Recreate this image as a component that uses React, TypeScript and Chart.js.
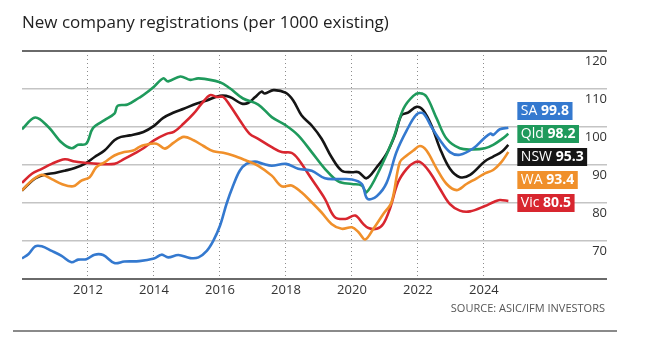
import React, { useEffect, useRef } from "react";
import { Chart, registerables } from "chart.js";

Chart.register(...registerables);

const TITLE = "New company registrations (per 1000 existing)";
const SOURCE = "SOURCE: ASIC/IFM INVESTORS";

const X_MIN = 2010;
const X_MAX = 2027.73;
const xTickYears = [2012, 2014, 2016, 2018, 2020, 2022, 2024];
const yTickValues = [60, 70, 80, 90, 100, 110, 120];

const seriesNames = ["SA", "Qld", "NSW", "WA", "Vic"];
const seriesLatest = ["99.8", "98.2", "95.3", "93.4", "80.5"];
const seriesColors = ["#3479cf", "#1f9a5c", "#151515", "#f0902b", "#d8262f"];

const saYears = [2010, 2010.2, 2010.4, 2010.6, 2010.9, 2011.2, 2011.5, 2011.7, 2011.95, 2012.2, 2012.46, 2012.8, 2013.1, 2013.55, 2014, 2014.23, 2014.43, 2014.74, 2015.1, 2015.35, 2015.6, 2015.8, 2016, 2016.2, 2016.4, 2016.6, 2016.8, 2017.06, 2017.3, 2017.57, 2018, 2018.37, 2018.78, 2019.18, 2019.6, 2020, 2020.3, 2020.47, 2020.75, 2021.05, 2021.35, 2021.66, 2021.96, 2022.16, 2022.41, 2022.67, 2022.97, 2023.27, 2023.68, 2024, 2024.2, 2024.28, 2024.48, 2024.74];
const saValues = [65.4, 66.6, 68.6, 68.6, 67.4, 66.1, 64.4, 65.1, 65.2, 66.4, 66.3, 64.2, 64.6, 64.7, 65.4, 66.4, 65.7, 66.3, 65.5, 65.7, 67.4, 70.1, 74, 79.8, 84.6, 88.5, 90.3, 90.9, 90.3, 89.8, 90.3, 89, 88.5, 86.5, 86.3, 86.2, 85, 81.1, 81.8, 85.3, 93.4, 99.1, 103.3, 103.6, 100, 96.5, 93.4, 92.7, 94.4, 97, 98.3, 97.9, 99.4, 99.8];

const qldYears = [2010, 2010.4, 2010.8, 2011.2, 2011.5, 2011.7, 2011.95, 2012.15, 2012.5, 2012.8, 2012.9, 2013.2, 2013.55, 2013.68, 2014, 2014.28, 2014.43, 2014.8, 2015.1, 2015.35, 2016, 2016.3, 2016.7, 2017.16, 2017.57, 2018, 2018.37, 2018.78, 2019.18, 2019.6, 2020, 2020.3, 2020.44, 2020.85, 2021.25, 2021.56, 2021.86, 2022.06, 2022.26, 2022.57, 2022.87, 2023.27, 2023.68, 2024.03, 2024.28, 2024.54, 2024.74];
const qldValues = [99.4, 102.5, 100, 95.9, 94.4, 95.3, 95.6, 99.7, 101.8, 103.5, 105.6, 105.9, 107.7, 108.4, 110.6, 112.8, 112, 113.3, 112.4, 112.8, 111.8, 110.2, 107.5, 105.9, 102.6, 100.4, 97.8, 93.4, 89, 85.6, 85, 84.6, 82.8, 89, 96.9, 104.8, 108.2, 108.9, 108, 102.2, 96.9, 94.4, 94.1, 94.4, 95.3, 96.8, 98.2];

const nswYears = [2010, 2010.2, 2010.4, 2010.7, 2011, 2011.3, 2011.6, 2011.9, 2012.2, 2012.5, 2012.8, 2013, 2013.27, 2013.68, 2014, 2014.28, 2014.6, 2014.9, 2015.3, 2015.6, 2016, 2016.3, 2016.65, 2016.85, 2017.06, 2017.26, 2017.36, 2017.62, 2018, 2018.22, 2018.47, 2018.78, 2019.08, 2019.38, 2019.69, 2020, 2020.2, 2020.44, 2020.75, 2021.05, 2021.3, 2021.5, 2021.7, 2021.96, 2022.16, 2022.41, 2022.67, 2022.97, 2023.27, 2023.58, 2024.03, 2024.28, 2024.54, 2024.74];
const nswValues = [83.3, 85, 86.5, 87.5, 87.9, 88.5, 89.2, 90.3, 92.1, 93.8, 96.5, 97.4, 97.8, 98.7, 100.3, 102.4, 103.8, 104.8, 106.2, 107, 108.2, 107.9, 106.2, 106.3, 107.8, 109.3, 108.8, 109.7, 109, 107, 103.1, 100.4, 96.9, 92.1, 88.5, 88.1, 88.1, 86.5, 89.4, 93, 97.8, 103.1, 103.8, 105.3, 104.4, 100.4, 94.3, 89, 86.8, 87.4, 91, 92.2, 93.5, 95.3];

const waYears = [2010, 2010.3, 2010.6, 2010.9, 2011.2, 2011.55, 2011.8, 2012.05, 2012.25, 2012.5, 2012.8, 2013.1, 2013.37, 2013.55, 2013.68, 2014.08, 2014.33, 2014.6, 2014.9, 2015.2, 2015.5, 2015.8, 2016.1, 2016.4, 2016.76, 2017.16, 2017.57, 2017.87, 2018.17, 2018.47, 2018.78, 2019.08, 2019.38, 2019.69, 2020, 2020.2, 2020.4, 2020.65, 2020.95, 2021.2, 2021.45, 2021.66, 2021.86, 2022.06, 2022.26, 2022.57, 2022.87, 2023.17, 2023.47, 2023.78, 2024.03, 2024.28, 2024.54, 2024.74];
const waValues = [83.3, 85.9, 87.4, 86.3, 85, 84.4, 85.9, 86.8, 89.4, 90.7, 92.5, 93.4, 93.8, 94.7, 95.2, 95.6, 94.3, 95.9, 97.4, 96.5, 95, 93.6, 93.2, 92.5, 91.3, 89.8, 87.2, 84.4, 84.6, 82.8, 80.2, 77.5, 74.5, 73.2, 73.6, 72.3, 70.4, 73.2, 77.1, 80.2, 90.7, 92.5, 93.8, 95, 93.8, 89, 85, 83.4, 85, 86.5, 87.8, 88.7, 90.9, 93.4];

const vicYears = [2010, 2010.3, 2010.6, 2010.9, 2011.3, 2011.6, 2011.9, 2012.3, 2012.8, 2013.1, 2013.4, 2013.68, 2014, 2014.38, 2014.6, 2014.9, 2015.2, 2015.45, 2015.7, 2015.9, 2016.1, 2016.3, 2016.6, 2016.9, 2017.16, 2017.57, 2017.87, 2018.17, 2018.37, 2018.78, 2019.18, 2019.48, 2019.8, 2020.1, 2020.34, 2020.5, 2020.75, 2020.95, 2021.15, 2021.4, 2021.66, 2021.9, 2022.1, 2022.36, 2022.67, 2022.97, 2023.27, 2023.58, 2024.03, 2024.28, 2024.48, 2024.74];
const vicValues = [85.3, 87.7, 89, 90.3, 91.5, 90.9, 90.6, 90.3, 90.3, 91.6, 93, 94.4, 96.5, 98.2, 98.7, 100.9, 103.5, 106.2, 108.4, 107.9, 107.9, 105.7, 101.8, 98.2, 96.9, 94.7, 93.4, 93.2, 91.6, 86.3, 81.1, 76.3, 75.8, 76.7, 74.5, 73.4, 73.2, 74.5, 78.5, 85.5, 89, 90.7, 90.6, 88.1, 83.7, 79.7, 78, 77.8, 79.2, 80.2, 80.8, 80.5];

const seriesYears = [saYears, qldYears, nswYears, waYears, vicYears];
const seriesValues = [saValues, qldValues, nswValues, waValues, vicValues];

const FONT = "'Open Sans', 'Noto Sans', sans-serif";

const overlayPlugin = {
  id: "overlay",
  afterDraw(chart: any) {
    const ctx = chart.ctx;
    const area = chart.chartArea;
    const xs = chart.scales.x;
    ctx.save();
    // title
    ctx.fillStyle = "#222";
    ctx.font = `17px ${FONT}`;
    ctx.textBaseline = "middle";
    ctx.textAlign = "left";
    ctx.fillText(TITLE, area.left, 23);
    // source
    ctx.fillStyle = "#555";
    ctx.font = `11px ${FONT}`;
    ctx.textAlign = "right";
    ctx.fillText(SOURCE, 605, 309);
    // bottom rule
    ctx.strokeStyle = "#8a8a8a";
    ctx.lineWidth = 2;
    ctx.beginPath();
    ctx.moveTo(13, 331);
    ctx.lineTo(617, 331);
    ctx.stroke();
    // value labels
    const lastX = Math.max(...seriesYears.map((a) => a[a.length - 1]));
    const bx = xs.getPixelForValue(lastX) + 9;
    const tops = [102, 125, 148, 171, 194];
    seriesNames.forEach((name, i) => {
      ctx.font = `14px ${FONT}`;
      const w1 = ctx.measureText(name + " ").width;
      ctx.font = `bold 14px ${FONT}`;
      const w2 = ctx.measureText(seriesLatest[i]).width;
      const w = w1 + w2 + 7;
      ctx.fillStyle = seriesColors[i];
      ctx.fillRect(bx, tops[i], w, 18);
      ctx.fillStyle = "#fff";
      ctx.textAlign = "left";
      ctx.textBaseline = "middle";
      ctx.font = `14px ${FONT}`;
      ctx.fillText(name + " ", bx + 3.5, tops[i] + 9.5);
      ctx.font = `bold 14px ${FONT}`;
      ctx.fillText(seriesLatest[i], bx + 3.5 + w1, tops[i] + 9.5);
    });
    ctx.restore();
  },
};

export default function App() {
  const ref = useRef<HTMLCanvasElement>(null);
  useEffect(() => {
    const canvas = ref.current;
    if (!canvas) return;
    const order = [3, 0, 1, 4, 2];
    const chart = new Chart(canvas, {
      type: "line",
      data: {
        datasets: order.map((i) => ({
          label: seriesNames[i],
          data: seriesYears[i].map((x, k) => ({ x, y: seriesValues[i][k] })),
          borderColor: seriesColors[i],
          borderWidth: 2.6,
          pointRadius: 0,
          tension: 0.35,
          fill: false,
        })),
      },
      options: {
        animation: false,
        responsive: false,
        maintainAspectRatio: false,
        layout: { padding: { left: 22, top: 51, right: 0, bottom: 0 } },
        plugins: {
          legend: { display: false },
          title: { display: false },
          tooltip: { enabled: false },
        },
        scales: {
          x: {
            type: "linear",
            min: X_MIN,
            max: X_MAX,
            afterBuildTicks: (scale: any) => {
              scale.ticks = xTickYears.map((v) => ({ value: v }));
            },
            afterFit: (scale: any) => {
              scale.height = 71;
            },
            ticks: {
              callback: (v: any) => String(v),
              font: { family: FONT, size: 13 },
              color: "#333",
              padding: 3,
              maxRotation: 0,
              autoSkip: false,
            },
            grid: {
              color: "#8c8c8c",
              lineWidth: 1,
              drawTicks: false,
            },
            border: { display: false, dash: [1, 3] },
          },
          y: {
            position: "right",
            min: 60,
            max: 120,
            afterBuildTicks: (scale: any) => {
              scale.ticks = yTickValues.map((v) => ({ value: v }));
            },
            afterFit: (scale: any) => {
              scale.width = 43;
            },
            ticks: {
              mirror: true,
              padding: 0,
              labelOffset: 10,
              callback: (v: any) => (v === 60 ? "" : String(v)),
              font: { family: FONT, size: 13 },
              color: "#333",
            },
            grid: {
              color: (c: any) => (c.tick && (c.tick.value === 120 || c.tick.value === 60) ? "#6a6a6a" : "#c4c4c4"),
              lineWidth: (c: any) => (c.tick && (c.tick.value === 120 || c.tick.value === 60) ? 2 : 1.5),
              drawTicks: false,
            },
            border: { display: false },
          },
        },
      },
      plugins: [overlayPlugin],
    });
    return () => chart.destroy();
  }, []);
  return (
    <div style={{ position: "absolute", left: 0, top: 0, width: 650, height: 350, background: "#fff" }}>
      <canvas ref={ref} width={650} height={350} style={{ width: 650, height: 350, display: "block" }} />
    </div>
  );
}
